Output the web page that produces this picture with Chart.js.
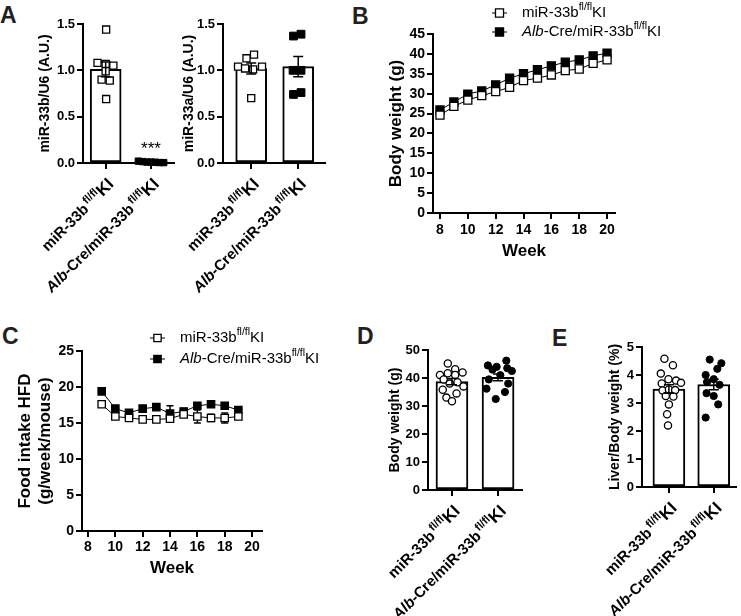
<!DOCTYPE html>
<html><head><meta charset="utf-8">
<script src="https://cdn.jsdelivr.net/npm/chart.js@4"></script>
<style>
html,body{margin:0;padding:0;background:#fff;}
body{width:741px;height:616px;position:relative;overflow:hidden;font-family:"Liberation Sans",Arial,sans-serif;}
canvas{position:absolute;}
.lbl{position:absolute;font-weight:bold;font-size:23px;line-height:1;color:#231f20;}
</style></head><body>
<div class="lbl" style="left:0px;top:4px">A</div>
<div class="lbl" style="left:352px;top:5px">B</div>
<div class="lbl" style="left:2px;top:325px">C</div>
<div class="lbl" style="left:357px;top:325px">D</div>
<div class="lbl" style="left:552px;top:327px">E</div>
<canvas id="cA1" width="180" height="300" style="left:0px;top:0px"></canvas>
<canvas id="cA2" width="190" height="300" style="left:180px;top:0px"></canvas>
<canvas id="cB" width="371" height="280" style="left:370px;top:0px"></canvas>
<canvas id="cC" width="370" height="300" style="left:0px;top:290px"></canvas>
<canvas id="cD" width="185" height="316" style="left:370px;top:300px"></canvas>
<canvas id="cE" width="186" height="316" style="left:555px;top:300px"></canvas>
<script>
// ---------------- data ----------------
const groupLabels = [
  [{t:'miR-33b'},{t:'fl/fl',sup:true},{t:'KI',big:true}],
  [{t:'Alb',it:true},{t:'-Cre/miR-33b'},{t:'fl/fl',sup:true},{t:'KI',big:true}]
];
const legendLabels = [
  [{t:'miR-33b'},{t:'fl/fl',sup:true},{t:'KI'}],
  [{t:'Alb',it:true},{t:'-Cre/miR-33b'},{t:'fl/fl',sup:true},{t:'KI'}]
];
// Panel A (left): miR-33b/U6
const a1Means = [1.01, 0.01];
const a1Sem = [0.08, 0.003];
const a1Ctrl = [1.44, 1.08, 1.07, 1.05, 0.99, 0.90, 0.89, 0.69];
const a1Ko = [0.020, 0.015, 0.010, 0.010, 0.008, 0.005, 0.004];
const a1JitC = [0.01, -0.18, 0.0, 0.17, 0.0, -0.09, 0.09, 0.01];
const a1JitK = [-0.28, -0.18, -0.09, 0.0, 0.09, 0.18, 0.28];
const a1Star = '***';
// Panel A (right): miR-33a/U6
const a2Means = [1.02, 1.04];
const a2Sem = [0.06, 0.11];
const a2Ctrl = [1.17, 1.13, 1.04, 1.04, 1.02, 1.01, 0.70];
const a2Ko = [1.37, 1.39, 1.00, 1.00, 0.74, 0.76];
const a2JitC = [0.06, -0.10, -0.28, 0.23, -0.13, 0.04, 0.0];
const a2JitK = [-0.10, 0.06, -0.11, 0.06, -0.10, 0.06];
const aTicks = [0, 0.5, 1.0, 1.5];
// Panel B: body weight over weeks
const weeksB = [8, 9, 10, 11, 12, 13, 14, 15, 16, 17, 18, 19, 20];
const bwCtrl = [24.6, 26.8, 28.4, 29.5, 30.5, 31.6, 33.3, 33.9, 34.7, 35.8, 36.2, 37.6, 38.5];
const bwKo   = [25.9, 27.9, 29.9, 30.7, 32.2, 33.9, 35.0, 36.0, 37.0, 37.9, 38.5, 39.5, 40.2];
const bwCtrlSem = [0.6, 0.6, 0.6, 0.6, 0.6, 0.6, 0.7, 0.7, 0.7, 0.8, 0.8, 0.8, 0.8];
const bwKoSem   = [0.5, 0.5, 0.5, 0.6, 0.6, 0.6, 0.6, 0.7, 0.7, 0.7, 0.7, 0.8, 0.8];
const bTicks = [0, 5, 10, 15, 20, 25, 30, 35, 40, 45];
const weekTicks = [8, 10, 12, 14, 16, 18, 20];
// Panel C: food intake HFD
const weeksC = [9, 10, 11, 12, 13, 14, 15, 16, 17, 18, 19];
const fiCtrl = [17.6, 15.9, 15.7, 15.5, 15.5, 15.6, 16.2, 15.9, 15.7, 15.7, 15.9];
const fiKo   = [19.4, 17.0, 16.4, 17.0, 17.2, 16.3, 16.6, 17.4, 17.6, 17.4, 16.8];
const fiCtrlSem = [0.3, 0.3, 0.3, 0.2, 0.2, 0.3, 0.4, 0.9, 0.5, 0.7, 0.3];
const fiKoSem   = [0.3, 0.3, 0.3, 0.3, 0.3, 1.1, 0.4, 0.3, 0.4, 0.3, 0.3];
const cTicks = [0, 5, 10, 15, 20, 25];
// Panel D: body weight (g)
const dMeans = [38.7, 40.2];
const dSem = [1.1, 1.2];
const dCtrl = [45.2, 43.1, 42.0, 41.7, 41.1, 41.1, 39.5, 38.5, 38.0, 37.0, 35.8, 34.5, 33.0, 31.7];
const dKo = [46.2, 44.5, 44.0, 43.5, 43.0, 42.5, 41.0, 39.5, 38.0, 36.2, 35.0, 32.5];
const dJitC = [-0.09, 0.07, 0.23, -0.09, -0.26, 0.07, -0.18, 0.12, -0.05, 0.25, -0.2, 0.1, -0.12, 0.0];
const dJitK = [0.18, -0.22, -0.03, 0.2, -0.12, 0.3, 0.05, -0.2, 0.22, -0.25, 0.15, -0.05];
const dTicks = [0, 10, 20, 30, 40, 50];
// Panel E: liver/body weight (%)
const eMeans = [3.50, 3.66];
const eSem = [0.15, 0.19];
const eCtrl = [4.58, 4.35, 4.05, 3.85, 3.80, 3.72, 3.70, 3.45, 3.48, 3.46, 3.25, 3.23, 2.95, 2.60, 2.20];
const eKo = [4.55, 4.42, 4.22, 4.00, 3.85, 3.75, 3.65, 3.35, 3.25, 2.95, 2.48];
const eJitC = [-0.1, 0.09, -0.18, -0.01, 0.16, 0.27, -0.16, -0.14, 0.0, 0.14, -0.07, 0.1, 0.0, -0.04, -0.02];
const eJitK = [-0.09, 0.17, 0.08, -0.18, 0.0, -0.15, 0.13, -0.16, 0.0, 0.1, -0.18];
const eTicks = [0, 1, 2, 3, 4, 5];

// ---------------- helpers ----------------
const FF = '"Liberation Sans", Arial, Helvetica, sans-serif';
Chart.defaults.font.family = FF;
Chart.defaults.color = '#000';
Chart.defaults.animation = false;
Chart.defaults.responsive = false;
Chart.defaults.plugins.legend.display = false;
Chart.defaults.plugins.tooltip.enabled = false;

function segFont(s, sp) {
  const size = s.sup ? sp.sup : (s.big ? sp.big : sp.size);
  return (s.it ? 'italic ' : '') + (sp.bold ? 'bold ' : '') + size + 'px ' + FF;
}
function segsWidth(ctx, segs, sp) {
  let w = 0;
  for (const s of segs) { ctx.font = segFont(s, sp); w += ctx.measureText(s.t).width + (s.sup ? sp.gap : 0); }
  return w;
}
function drawSegs(ctx, segs, x, y, sp) {
  for (const s of segs) {
    ctx.font = segFont(s, sp);
    if (s.sup) x += sp.gap;
    ctx.fillText(s.t, x, y - (s.sup ? sp.rise : 0));
    x += ctx.measureText(s.t).width;
  }
}
function ticksFrom(arr) { return (s) => { s.ticks = arr.map(v => ({value: v})); }; }

function errPlugin(items, cap, when) {
  const fn = function(chart) {
    const ctx = chart.ctx, xs = chart.scales.x, ys = chart.scales.y;
    ctx.save(); ctx.strokeStyle = '#000'; ctx.lineWidth = 1.5;
    for (const it of items) {
      it.x.forEach((xv, i) => {
        const px = xs.getPixelForValue(xv);
        const t = ys.getPixelForValue(it.m[i] + it.e[i]);
        const b = ys.getPixelForValue(it.m[i] - it.e[i]);
        ctx.beginPath();
        ctx.moveTo(px, t); ctx.lineTo(px, b);
        ctx.moveTo(px - cap / 2, t); ctx.lineTo(px + cap / 2, t);
        ctx.moveTo(px - cap / 2, b); ctx.lineTo(px + cap / 2, b);
        ctx.stroke();
      });
    }
    ctx.restore();
  };
  const p = {id: 'err'};
  p[when] = fn;
  return p;
}
function groupLabelPlugin(labels, sp, dx, dy) {
  return { id: 'glab', afterDraw(chart) {
    const ctx = chart.ctx, xs = chart.scales.x, yb = chart.chartArea.bottom;
    labels.forEach((segs, i) => {
      const px = xs.getPixelForValue(i);
      ctx.save();
      ctx.translate(px + dx, yb + dy);
      ctx.rotate(-Math.PI / 4);
      ctx.fillStyle = '#000'; ctx.textBaseline = 'alphabetic'; ctx.textAlign = 'left';
      const w = segsWidth(ctx, segs, sp);
      drawSegs(ctx, segs, -w, 0, sp);
      ctx.restore();
    });
  }};
}
function starPlugin(text, xv, yv, size) {
  return { id: 'star', afterDraw(chart) {
    const ctx = chart.ctx;
    ctx.save(); ctx.fillStyle = '#000'; ctx.font = size + 'px ' + FF;
    ctx.textAlign = 'center'; ctx.textBaseline = 'alphabetic';
    ctx.fillText(text, chart.scales.x.getPixelForValue(xv), chart.scales.y.getPixelForValue(yv));
    ctx.restore();
  }};
}
function legendPlugin(items, sp) {
  return { id: 'lg', afterDraw(chart) {
    const ctx = chart.ctx; ctx.save();
    items.forEach(it => {
      const ds = chart.data.datasets[it.ds];
      ctx.strokeStyle = '#000'; ctx.lineWidth = 1;
      ctx.beginPath(); ctx.moveTo(it.x0, it.y); ctx.lineTo(it.x1, it.y); ctx.stroke();
      ctx.fillStyle = ds.pointBackgroundColor; ctx.strokeStyle = ds.pointBorderColor; ctx.lineWidth = ds.pointBorderWidth;
      Chart.helpers.drawPoint(ctx, {pointStyle: 'rect', radius: ds.pointRadius, borderWidth: ds.pointBorderWidth, rotation: 0}, (it.x0 + it.x1) / 2, it.y);
      ctx.fillStyle = '#000'; ctx.textBaseline = 'middle'; ctx.textAlign = 'left';
      drawSegs(ctx, it.segs, it.tx, it.y, sp);
    });
    ctx.restore();
  }};
}
function yAxis(o) {
  return {
    type: 'linear', min: o.min, max: o.max,
    afterBuildTicks: ticksFrom(o.ticks),
    afterFit: (s) => { s.width = o.w; },
    ticks: { font: {size: o.fs, weight: 'bold'}, color: '#000', padding: 2, callback: o.fmt },
    grid: { display: true, drawOnChartArea: false, drawTicks: true, tickLength: 6, lineWidth: 2, color: '#000' },
    border: { display: true, color: '#000', width: 2 },
    title: { display: true, text: o.title, font: {size: o.tfs, weight: 'bold'}, color: '#000', padding: {top: o.tp, bottom: 0} }
  };
}
const fmt1 = (v) => Number(v).toFixed(1);
const fmt0 = (v) => String(v);

function barPanel(id, c) {
  return new Chart(document.getElementById(id), {
    type: 'bar',
    data: { datasets: [
      { type: 'scatter', data: c.ctrl.map((v, i) => ({x: c.jc[i], y: v})), pointStyle: c.pt, pointRadius: c.rc,
        pointBackgroundColor: '#fff', pointBorderColor: '#000', pointBorderWidth: 1.3, order: 1, clip: false },
      { type: 'scatter', data: c.ko.map((v, i) => ({x: 1 + c.jk[i], y: v})), pointStyle: c.pt, pointRadius: c.rk,
        pointBackgroundColor: '#000', pointBorderColor: '#000', pointBorderWidth: 1, order: 1, clip: false },
      { type: 'bar', data: c.means.map((v, i) => ({x: i, y: v})), backgroundColor: '#fff', borderColor: '#000',
        borderWidth: 2, borderSkipped: false, barThickness: c.bw, order: 5 }
    ]},
    options: {
      layout: { padding: c.pad },
      scales: {
        x: { type: 'linear', min: c.xmin, max: c.xmax, offset: false,
             afterBuildTicks: ticksFrom([0, 1]), afterFit: (s) => { s.height = c.xh; },
             ticks: { display: false },
             grid: { display: true, offset: false, drawOnChartArea: false, drawTicks: true, tickLength: 6, lineWidth: 2, color: '#000' },
             border: { display: true, color: '#000', width: 2 } },
        y: yAxis(c.y)
      }
    },
    plugins: [errPlugin([{x: [0, 1], m: c.means, e: c.sem}], 10, 'afterDatasetsDraw'),
              groupLabelPlugin(groupLabels, {size: 15, sup: 11, big: 17, bold: true, gap: 2, rise: 6}, 9, 22)].concat(c.extra || [])
  });
}

// ---------------- Panel A ----------------
barPanel('cA1', {
  ctrl: a1Ctrl, ko: a1Ko, jc: a1JitC, jk: a1JitK, means: a1Means, sem: a1Sem,
  pt: 'rect', rc: 5, rk: 4.5, bw: 31, xmin: -0.5, xmax: 1.5, xh: 137,
  pad: {left: 0, top: 24, right: 4, bottom: 0},
  y: {min: 0, max: 1.5, ticks: aTicks, w: 83, fs: 13, fmt: fmt1, title: 'miR-33b/U6 (A.U.)', tfs: 14, tp: 37},
  extra: [starPlugin(a1Star, 1, 0.1, 17)]
});
barPanel('cA2', {
  ctrl: a2Ctrl, ko: a2Ko, jc: a2JitC, jk: a2JitK, means: a2Means, sem: a2Sem,
  pt: 'rect', rc: 5, rk: 5.5, bw: 31, xmin: -0.6, xmax: 1.57, xh: 137,
  pad: {left: 0, top: 24, right: 45, bottom: 0},
  y: {min: 0, max: 1.5, ticks: aTicks, w: 43, fs: 13, fmt: fmt1, title: 'miR-33a/U6 (A.U.)', tfs: 14, tp: 1}
});

// ---------------- line panels ----------------
function linePanel(id, c) {
  const mk = (xs, ys, fill) => ({
    data: xs.map((w, i) => ({x: w, y: ys[i]})), borderColor: '#000', borderWidth: 1, tension: 0,
    pointStyle: 'rect', pointRadius: c.r, pointBorderWidth: 1.3,
    pointBackgroundColor: fill, pointBorderColor: '#000', clip: false
  });
  return new Chart(document.getElementById(id), {
    type: 'line',
    data: { datasets: [ mk(c.xs, c.ctrl, '#fff'), mk(c.xs, c.ko, '#000') ] },
    options: {
      layout: { padding: c.pad },
      scales: {
        x: { type: 'linear', min: c.xmin, max: c.xmax,
             afterBuildTicks: ticksFrom(weekTicks), afterFit: (s) => { s.height = c.xh; },
             ticks: { font: {size: c.fs, weight: 'bold'}, color: '#000', padding: c.xpad, maxRotation: 0 },
             grid: { display: true, drawOnChartArea: false, drawTicks: true, tickLength: 6, lineWidth: 2, color: '#000' },
             border: { display: true, color: '#000', width: 2 },
             title: { display: true, text: 'Week', font: {size: 17, weight: 'bold'}, color: '#000', padding: {top: 0, bottom: c.wpb} } },
        y: yAxis(c.y)
      }
    },
    plugins: [errPlugin([{x: c.xs, m: c.ctrl, e: c.ctrlSem}, {x: c.xs, m: c.ko, e: c.koSem}], 7, 'beforeDatasetsDraw'),
              legendPlugin([
                {ds: 0, x0: c.lg.x0, x1: c.lg.x1, tx: c.lg.tx, y: c.lg.y1, segs: legendLabels[0]},
                {ds: 1, x0: c.lg.x0, x1: c.lg.x1, tx: c.lg.tx, y: c.lg.y2, segs: legendLabels[1]}
              ], {size: 15, sup: 10.5, big: 15, bold: false, gap: 0, rise: 6})]
  });
}
linePanel('cB', {
  xs: weeksB, ctrl: bwCtrl, ko: bwKo, ctrlSem: bwCtrlSem, koSem: bwKoSem, r: 5.7,
  xmin: 7.5, xmax: 20.57, xh: 67, fs: 14, xpad: 3, wpb: 18,
  pad: {left: 0, top: 34, right: 126, bottom: 0},
  y: {min: 0, max: 45, ticks: bTicks, w: 63, fs: 14, fmt: fmt0, title: 'Body weight (g)', tfs: 17, tp: 16},
  lg: {x0: 122, x1: 137, tx: 152, y1: 13, y2: 32}
});
linePanel('cC', {
  xs: weeksC, ctrl: fiCtrl, ko: fiKo, ctrlSem: fiCtrlSem, koSem: fiKoSem, r: 5.2,
  xmin: 7.56, xmax: 20.73, xh: 59, fs: 14, xpad: 2, wpb: 11,
  pad: {left: 0, top: 61, right: 108, bottom: 0},
  y: {min: 0, max: 25, ticks: cTicks, w: 82, fs: 14, fmt: fmt0, title: ['Food intake HFD', '(g/week/mouse)'], tfs: 17, tp: 15},
  lg: {x0: 150, x1: 165, tx: 180, y1: 48, y2: 69}
});

// ---------------- Panels D, E ----------------
barPanel('cD', {
  ctrl: dCtrl, ko: dKo, jc: dJitC, jk: dJitK, means: dMeans, sem: dSem,
  pt: 'circle', rc: 3.6, rk: 3.6, bw: 32, xmin: -0.52, xmax: 1.52, xh: 126,
  pad: {left: 0, top: 50, right: 33, bottom: 0},
  y: {min: 0, max: 50, ticks: dTicks, w: 58, fs: 13, fmt: fmt0, title: 'Body weight (g)', tfs: 14, tp: 17}
});
barPanel('cE', {
  ctrl: eCtrl, ko: eKo, jc: eJitC, jk: eJitK, means: eMeans, sem: eSem,
  pt: 'circle', rc: 3.6, rk: 3.6, bw: 32, xmin: -0.6, xmax: 1.49, xh: 129,
  pad: {left: 0, top: 47, right: 1, bottom: 0},
  y: {min: 0, max: 5, ticks: eTicks, w: 87, fs: 13, fmt: fmt0, title: 'Liver/Body weight (%)', tfs: 14, tp: 52}
});
</script>
</body></html>
